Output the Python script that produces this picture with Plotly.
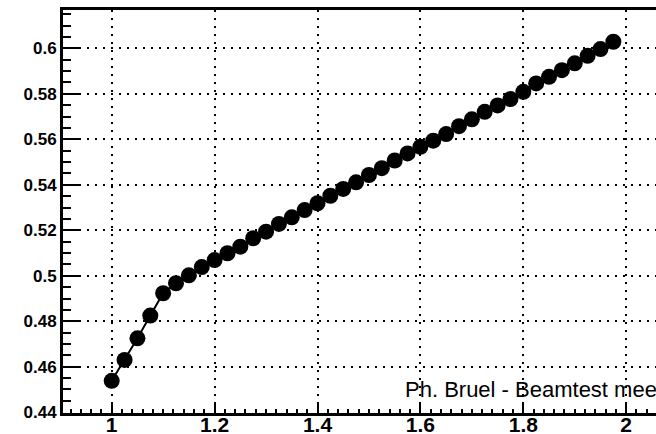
import plotly.graph_objects as go

# Scan points and measured values
x_vals = [1.000, 1.025, 1.050, 1.075, 1.100, 1.125, 1.150, 1.175, 1.200, 1.225,
          1.250, 1.275, 1.300, 1.325, 1.350, 1.375, 1.400, 1.425, 1.450, 1.475,
          1.500, 1.525, 1.550, 1.575, 1.600, 1.625, 1.650, 1.675, 1.700, 1.725,
          1.750, 1.775, 1.800, 1.825, 1.850, 1.875, 1.900, 1.925, 1.950, 1.975]
y_vals = [0.4538, 0.4630, 0.4725, 0.4825, 0.4923, 0.4967, 0.5002, 0.5038, 0.5069, 0.5099,
          0.5128, 0.5165, 0.5194, 0.5228, 0.5257, 0.5289, 0.5319, 0.5352, 0.5382, 0.5411,
          0.5443, 0.5473, 0.5507, 0.5538, 0.5567, 0.5594, 0.5623, 0.5658, 0.5688, 0.5721,
          0.5749, 0.5777, 0.5809, 0.5846, 0.5875, 0.5904, 0.5934, 0.5967, 0.5997, 0.6029]

x_tickvals = [1.0, 1.2, 1.4, 1.6, 1.8, 2.0]
x_ticktext = ["1", "1.2", "1.4", "1.6", "1.8", "2"]
y_tickvals = [0.44, 0.46, 0.48, 0.50, 0.52, 0.54, 0.56, 0.58, 0.60]
y_ticktext = ["0.44", "0.46", "0.48", "0.5", "0.52", "0.54", "0.56", "0.58", "0.6"]

credit_text = "Ph. Bruel - Beamtest meeting"

FONT = "Liberation Sans, Arial, Helvetica, sans-serif"

fig = go.Figure()
fig.add_trace(go.Scatter(
    x=x_vals, y=y_vals, mode="lines+markers",
    line=dict(color="black", width=2),
    marker=dict(color="black", size=16, line=dict(width=0)),
    showlegend=False,
))

grid_style = dict(showgrid=True, gridcolor="black", gridwidth=2, griddash="2px,6px")

fig.update_xaxes(
    range=[0.90534, 2.05792],
    tickmode="array", tickvals=x_tickvals, ticktext=x_ticktext,
    ticks="inside", ticklen=10, tickwidth=2, tickcolor="black",
    minor=dict(tick0=1.0, dtick=0.02, ticks="inside", ticklen=4, tickwidth=2,
               tickcolor="black", showgrid=False),
    showline=True, linecolor="black", linewidth=3, mirror=True,
    zeroline=False, automargin=False, ticklabelstandoff=-9,
    tickfont=dict(family=FONT, size=21, color="black", weight="bold"),
    **grid_style,
)
fig.update_yaxes(
    range=[0.43965, 0.61687],
    tickmode="array", tickvals=y_tickvals, ticktext=y_ticktext,
    ticks="inside", ticklen=18, tickwidth=2, tickcolor="black",
    minor=dict(tick0=0.44, dtick=0.005, ticks="inside", ticklen=8, tickwidth=2,
               tickcolor="black", showgrid=False),
    showline=True, linecolor="black", linewidth=3, mirror=True,
    zeroline=False, automargin=False,
    tickfont=dict(family=FONT, size=17, color="black", weight="bold"),
    **grid_style,
)

fig.add_annotation(
    x=1.5662, y=0.4498, xref="x", yref="y",
    text=credit_text, showarrow=False,
    xanchor="left", yanchor="middle",
    font=dict(family=FONT, size=22, color="black"),
)

fig.update_layout(
    width=656, height=434,
    margin=dict(l=63, r=0, t=10, b=21, pad=0),
    paper_bgcolor="white", plot_bgcolor="white",
)

fig.write_html("out.html")
